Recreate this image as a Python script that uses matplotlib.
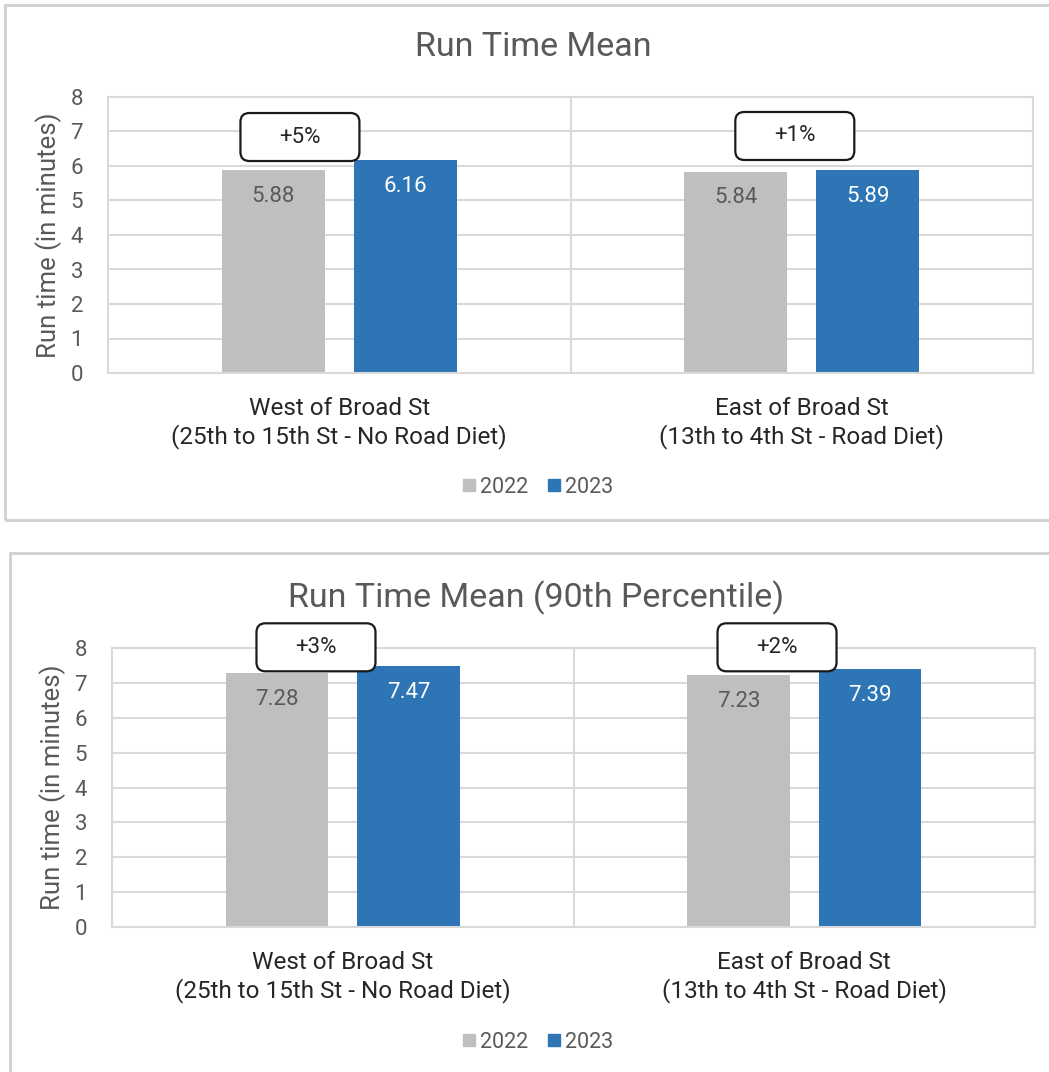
import matplotlib
matplotlib.use("Agg")
import matplotlib.pyplot as plt
from matplotlib.patches import Rectangle, FancyBboxPatch
from matplotlib.lines import Line2D

plt.rcParams['font.family'] = ['Roboto', 'DejaVu Sans']

# data
categories = ["West of Broad St\n(25th to 15th St - No Road Diet)",
              "East of Broad St\n(13th to 4th St - Road Diet)"]
years = ["2022", "2023"]
mean_2022 = [5.88, 5.84]
mean_2023 = [6.16, 5.89]
p90_2022 = [7.28, 7.23]
p90_2023 = [7.47, 7.39]
mean_change = ["+5%", "+1%"]
p90_change = ["+3%", "+2%"]

GRAY = "#BFBFBF"
BLUE = "#2E75B6"
GRID = "#D9D9D9"
TXT = "#595959"

W, H = 1049, 1072
fig = plt.figure(figsize=(W / 100, H / 100), dpi=100)


def px_box(x0, y0, x1, y1):
    # pixel box (top-left origin) -> figure fraction rect
    return [x0 / W, 1 - y1 / H, (x1 - x0) / W, (y1 - y0) / H]


# outer chart frames
for (x0, y0, x1, y1) in [(5, 5, 1060, 520), (10, 553, 1060, 1090)]:
    fig.patches.append(Rectangle((x0 / W, 1 - y1 / H), (x1 - x0) / W, (y1 - y0) / H,
                                 transform=fig.transFigure, fill=False,
                                 edgecolor="#D0D0D0", lw=2, zorder=0))


def draw_panel(rect, title, title_xy, v22, v23, changes, box_pos, legend_y):
    ax = fig.add_axes(px_box(*rect))
    x = [0, 1]
    off, bw = 0.1425, 0.223
    b1 = ax.bar([i - off for i in x], v22, bw, color=GRAY, zorder=2, label=years[0])
    b2 = ax.bar([i + off for i in x], v23, bw, color=BLUE, zorder=2, label=years[1])
    for bars, vals, col in [(b1, v22, TXT), (b2, v23, "white")]:
        for b, v in zip(bars, vals):
            ax.annotate(f"{v:.2f}", (b.get_x() + b.get_width() / 2, v),
                        xytext=(0, -19), textcoords="offset points",
                        ha="center", va="center", fontsize=16, color=col, zorder=3)
    ax.set_xlim(-0.5, 1.5)
    ax.set_ylim(0, 8)
    ax.set_yticks(range(0, 9))
    ax.yaxis.grid(True, color=GRID, lw=1.5, zorder=0)
    ax.axvline(0.5, color=GRID, lw=1.5, zorder=0)
    for s in ax.spines.values():
        s.set_color(GRID)
        s.set_linewidth(1.5)
    ax.tick_params(length=0)
    ax.tick_params(axis="y", labelsize=16, labelcolor=TXT, pad=18)
    ax.set_xticks(x)
    ax.set_xticklabels(categories, fontsize=17.5, color="#262626", linespacing=1.25)
    ax.tick_params(axis="x", pad=17)
    ax.set_ylabel("Run time (in minutes)", fontsize=18.5, color=TXT, labelpad=6)

    # change boxes
    axw = rect[2] - rect[0]
    axh = rect[3] - rect[1]
    ux = 2 / axw     # data units per px (x)
    uy = 8 / axh     # data units per px (y)
    bwid, bht = 119, 48
    for (cx, cy), txt in zip(box_pos, changes):
        p = FancyBboxPatch((cx - bwid * ux / 2, cy - bht * uy / 2), bwid * ux, bht * uy,
                           boxstyle=f"round,pad=0,rounding_size={9 * ux}",
                           mutation_aspect=uy / ux, facecolor="white",
                           edgecolor="#1a1a1a", lw=1.6, zorder=5, clip_on=False)
        ax.add_patch(p)
        ax.text(cx, cy, txt, ha="center", va="center", fontsize=16,
                color="#262626", zorder=6, clip_on=False)

    fig.text(title_xy[0] / W, 1 - title_xy[1] / H, title, ha="center", va="center",
             fontsize=24.5, color=TXT)
    handles = [Line2D([], [], marker="s", ls="", color=GRAY, markersize=9),
               Line2D([], [], marker="s", ls="", color=BLUE, markersize=9)]
    fig.legend(handles, years, loc="center", bbox_to_anchor=(537 / W, 1 - legend_y / H),
               ncol=2, frameon=False, fontsize=15.5, labelcolor=TXT,
               handletextpad=0.1, columnspacing=0.8, handlelength=0.8)
    return ax


draw_panel((108, 97, 1033, 373), "Run Time Mean", (533, 47),
           mean_2022, mean_2023, mean_change,
           [(-0.085, 6.84), (0.985, 6.87)], 487)
draw_panel((112, 648, 1035, 927), "Run Time Mean (90th Percentile)", (536, 598),
           p90_2022, p90_2023, p90_change,
           [(-0.058, 8.02), (0.941, 8.02)], 1042)

fig.savefig("out.png", dpi=100, facecolor="white")
